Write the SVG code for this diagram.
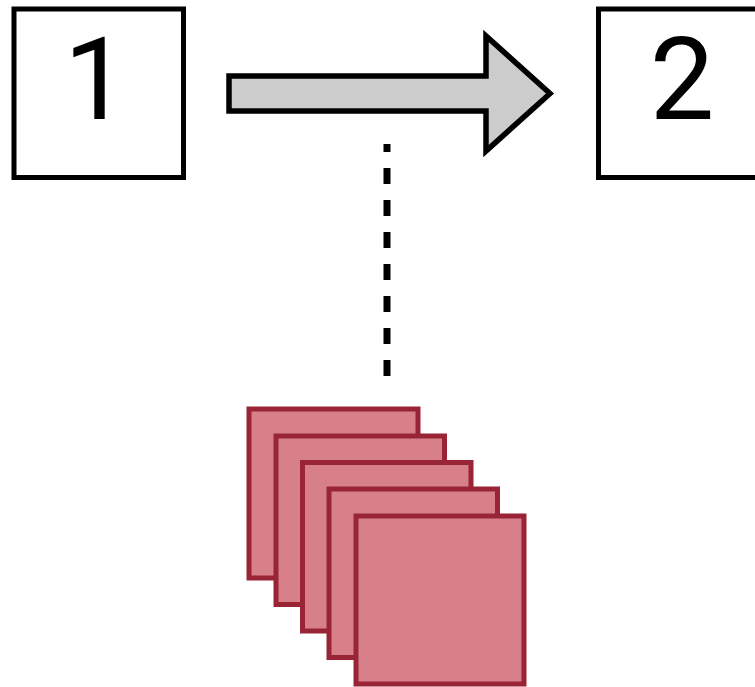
<svg xmlns="http://www.w3.org/2000/svg" width="755" height="687" viewBox="0 0 755 687">
<style>
.box{fill:#fff;stroke:#000;stroke-width:5}
.lbl{font-family:Roboto,"Open Sans",sans-serif;font-weight:400;font-size:115px;fill:#000;text-anchor:middle}
.sheet{fill:#D7808A;stroke:#982436;stroke-width:5}
</style>
<rect width="755" height="687" fill="#fff"/>
<g id="node1">
<rect class="box" x="14" y="9" width="169.5" height="168.5"/>
<text class="lbl" x="96" y="119">1</text>
</g>
<g id="node2">
<rect class="box" x="598.5" y="9" width="170" height="168.5"/>
<text class="lbl" x="682" y="119">2</text>
</g>
<g id="connectors">
<polygon points="229,76 486,76 486,36 550,93.5 486,151 486,111 229,111" fill="#cccccc" stroke="#000" stroke-width="5.5" stroke-linejoin="miter"/>
<line x1="387" y1="144" x2="387" y2="376" stroke="#000" stroke-width="7" stroke-dasharray="16 16" stroke-dashoffset="8"/>
</g>
<g id="stack">
<rect class="sheet" x="249" y="409" width="169" height="169"/>
<rect class="sheet" x="276" y="436" width="168.5" height="168.5"/>
<rect class="sheet" x="302.5" y="462.5" width="168.5" height="168.5"/>
<rect class="sheet" x="329" y="489" width="168.5" height="168.5"/>
<rect class="sheet" x="356" y="516" width="168" height="168"/>
</g>
</svg>
